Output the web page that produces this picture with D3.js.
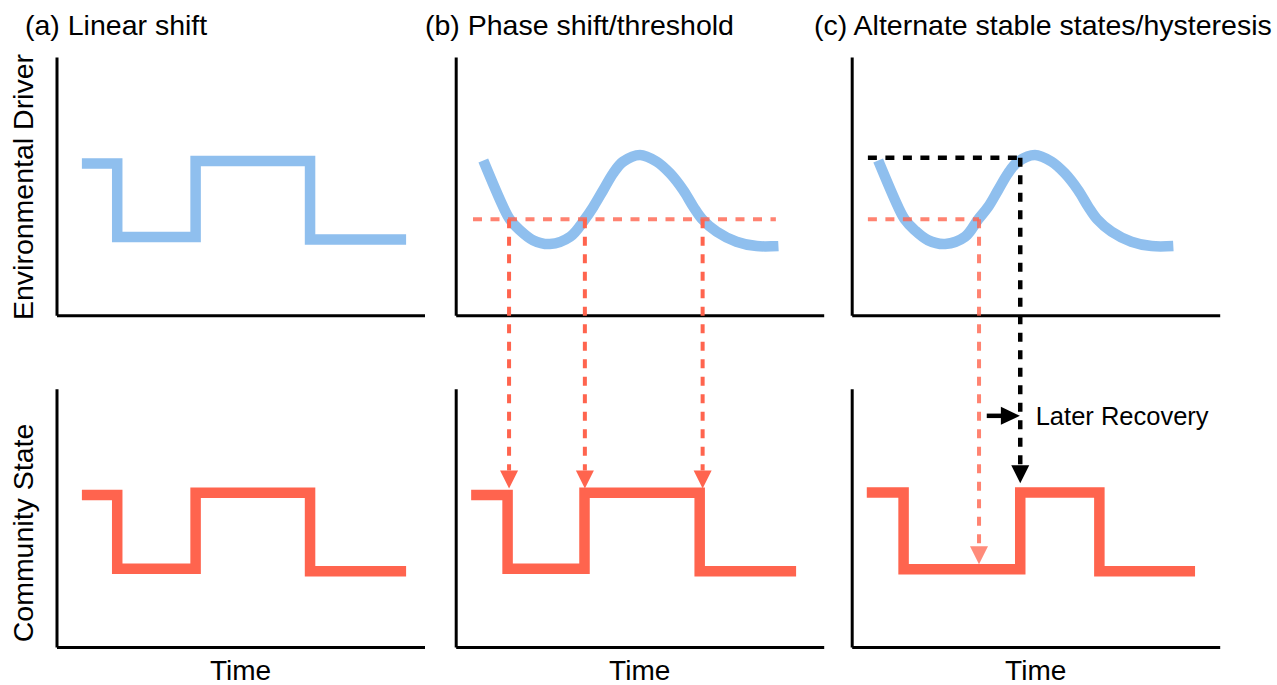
<!DOCTYPE html>
<html>
<head>
<meta charset="utf-8">
<title>Regime shifts</title>
<style>
  body { margin: 0; background: #fff; }
  text { font-family: "Liberation Sans", Arial, Helvetica, sans-serif; fill: #000; }
</style>
</head>
<body>
<svg class="figure"></svg>
<script src="https://cdn.jsdelivr.net/npm/d3@7/dist/d3.min.js"></script>
<script>
// text
const titles = ["(a) Linear shift", "(b) Phase shift/threshold", "(c) Alternate stable states/hysteresis"]
const driverLabel = "Environmental Driver"
const stateLabel = "Community State"
const timeLabel = "Time"
const recoveryLabel = "Later Recovery"

// (a) step driver + step response (time, level); levels hold until next time
const driverStepTimesA = [6.9, 16.5, 37.8, 68.9, 95.0]
const driverStepLevelsA = [58.8, 30.3, 59.7, 29.3]
const stateStepTimesA = [6.9, 16.5, 37.8, 68.9, 95.0]
const stateStepLevelsA = [58.8, 30.3, 59.7, 29.3]

// (b) smooth driver, threshold, response
const driverTimesB = [7.5, 12.9, 14.7, 17.4, 21.0, 25.6, 31.1, 35.1, 37.4, 40.1, 42.8, 45.5, 50.1, 54.6, 58.2, 61.8, 64.6, 67.0, 70.9, 76.3, 81.8, 87.7]
const driverValuesB = [59.9, 42.0, 37.2, 33.0, 29.1, 27.6, 30.4, 37.2, 42.0, 48.5, 55.0, 59.5, 62.1, 59.5, 55.0, 48.5, 42.0, 37.2, 32.4, 28.5, 26.8, 26.8]
const thresholdB = 37.2
const thresholdSpanB = [4.7, 87.0]
const crossingsB = [14.5, 35.1, 67.1]
const arrowTipB = 61.4
const stateStepTimesB = [4.2, 14.1, 35.0, 66.3, 92.5]
const stateStepLevelsB = [58.8, 30.3, 59.7, 29.3]

// (c) smooth driver, two thresholds, response
const driverTimesC = [7.2, 12.6, 14.4, 17.1, 20.7, 25.4, 30.8, 34.4, 37.1, 39.8, 42.5, 45.2, 49.8, 54.3, 57.9, 61.5, 64.3, 66.7, 70.6, 76.0, 81.5, 87.4]
const driverValuesC = [59.9, 42.0, 37.2, 33.0, 29.1, 27.6, 30.4, 37.2, 42.0, 48.5, 55.0, 59.5, 62.1, 59.5, 55.0, 48.5, 42.0, 37.2, 32.4, 28.5, 26.8, 26.8]
const collapseLevelC = 37.2
const collapseSpanC = [4.4, 34.6]
const collapseTipC = 32.0
const recoveryLevelC = 61.0
const recoverySpanC = [4.4, 45.8]
const recoveryTipC = 63.4
const laterArrowC = { from: 36.7, to: 45.7, level: 89.5 }
const laterTextC = { t: 50.0, v: 85.9 }
const stateStepTimesC = [4.1, 14.1, 45.8, 67.3, 93.3]
const stateStepLevelsC = [59.8, 30.1, 59.8, 29.3]

const blue = "#8fbfee", red = "#ff644e"
const width = 1277, height = 685
const colLeft = [56.5, 455.7, 851.7]
const rowTop = [57, 388.7]
const plotW = 368, plotH = 258.3
const dash = "9,8.5"

const svg = d3.select(".figure")
    .attr("width", width)
    .attr("height", height)

function scales(col, row) {
    return {
        x: d3.scaleLinear().domain([0, 100]).range([colLeft[col], colLeft[col] + plotW]),
        y: d3.scaleLinear().domain([0, 100]).range([rowTop[row] + plotH, rowTop[row]])
    }
}

function steps(times, levels) {
    return times.map((t, i) => [t, levels[Math.min(i, levels.length - 1)]])
}

function zipped(ts, vs) {
    return ts.map((t, i) => [t, vs[i]])
}

function arrowHead(g, x, y, color, opacity) {
    // downward triangle, tip at (x, y)
    g.append("path")
        .attr("d", `M${x - 9},${y - 18}L${x + 9},${y - 18}L${x},${y}Z`)
        .attr("fill", color)
        .attr("opacity", opacity)
}

const panels = []
for (let c = 0; c < 3; c++) {
    for (let r = 0; r < 2; r++) {
        const s = scales(c, r)
        const g = svg.append("g")
        g.append("g")
            .attr("transform", `translate(${s.x(0)},0)`)
            .call(d3.axisLeft(s.y).tickValues([]).tickSizeOuter(0))
        g.append("g")
            .attr("transform", `translate(0,${s.y(0)})`)
            .call(d3.axisBottom(s.x).tickValues([]).tickSizeOuter(0))
        g.selectAll(".domain").attr("stroke", "#000").attr("stroke-width", 3)
        panels.push(s)
    }
}
const P = (c, r) => panels[c * 2 + r]

// titles and labels
svg.selectAll("text.title")
    .data(titles)
    .enter()
    .append("text")
    .attr("class", "title")
    .attr("x", (d, i) => [25, 425, 814][i])
    .attr("y", 35)
    .attr("font-size", 28.5)
    .text(d => d)

svg.append("text")
    .attr("transform", "translate(33,187) rotate(-90)")
    .attr("text-anchor", "middle")
    .attr("font-size", 28.5)
    .text(driverLabel)
svg.append("text")
    .attr("transform", "translate(33,533) rotate(-90)")
    .attr("text-anchor", "middle")
    .attr("font-size", 28.5)
    .text(stateLabel)

for (let c = 0; c < 3; c++) {
    svg.append("text")
        .attr("x", P(c, 1).x(50))
        .attr("y", 680)
        .attr("text-anchor", "middle")
        .attr("font-size", 28)
        .text(timeLabel)
}

function stepLine(s) {
    return d3.line().x(d => s.x(d[0])).y(d => s.y(d[1])).curve(d3.curveStepAfter)
}
function smoothLine(s) {
    return d3.line().x(d => s.x(d[0])).y(d => s.y(d[1])).curve(d3.curveCatmullRom.alpha(0.5))
}

function drawStep(s, data, color) {
    svg.append("path")
        .attr("d", stepLine(s)(data))
        .attr("fill", "none")
        .attr("stroke", color)
        .attr("stroke-width", 10.5)
        .attr("stroke-linejoin", "miter")
}
function drawWave(s, data) {
    svg.append("path")
        .attr("d", smoothLine(s)(data))
        .attr("fill", "none")
        .attr("stroke", blue)
        .attr("stroke-width", 10.5)
}

// (a)
drawStep(P(0, 0), steps(driverStepTimesA, driverStepLevelsA), blue)
drawStep(P(0, 1), steps(stateStepTimesA, stateStepLevelsA), red)

// (b)
drawWave(P(1, 0), zipped(driverTimesB, driverValuesB))
drawStep(P(1, 1), steps(stateStepTimesB, stateStepLevelsB), red)
{
    const top = P(1, 0), bot = P(1, 1)
    const g = svg.append("g")
    g.append("line")
        .attr("x1", top.x(thresholdSpanB[0])).attr("x2", top.x(thresholdSpanB[1]))
        .attr("y1", top.y(thresholdB)).attr("y2", top.y(thresholdB))
        .attr("stroke", red).attr("stroke-width", 4)
        .attr("stroke-dasharray", dash).attr("opacity", 0.8)
    g.selectAll("line.drop")
        .data(crossingsB)
        .enter()
        .append("line")
        .attr("x1", d => top.x(d)).attr("x2", d => top.x(d))
        .attr("y1", top.y(thresholdB)).attr("y2", bot.y(arrowTipB) - 18)
        .attr("stroke", red).attr("stroke-width", 4)
        .attr("stroke-dasharray", dash)
    crossingsB.forEach(t => arrowHead(g, top.x(t), bot.y(arrowTipB), red, 1))
}

// (c)
drawWave(P(2, 0), zipped(driverTimesC, driverValuesC))
drawStep(P(2, 1), steps(stateStepTimesC, stateStepLevelsC), red)
{
    const top = P(2, 0), bot = P(2, 1)
    const g = svg.append("g")
    // collapse threshold
    g.append("path")
        .attr("d", `M${top.x(collapseSpanC[0])},${top.y(collapseLevelC)}H${top.x(collapseSpanC[1])}`)
        .attr("stroke", red).attr("stroke-width", 4).attr("fill", "none")
        .attr("stroke-dasharray", dash).attr("opacity", 0.8)
    g.append("path")
        .attr("d", `M${top.x(collapseSpanC[1])},${top.y(collapseLevelC)}V${bot.y(collapseTipC) - 18}`)
        .attr("stroke", red).attr("stroke-width", 4).attr("fill", "none")
        .attr("stroke-dasharray", dash).attr("opacity", 0.8)
    arrowHead(g, top.x(collapseSpanC[1]), bot.y(collapseTipC), red, 0.75)
    // recovery threshold
    g.append("path")
        .attr("d", `M${top.x(recoverySpanC[0])},${top.y(recoveryLevelC)}H${top.x(recoverySpanC[1])}`)
        .attr("stroke", "#000").attr("stroke-width", 4.5).attr("fill", "none")
        .attr("stroke-dasharray", dash)
    g.append("path")
        .attr("d", `M${top.x(recoverySpanC[1])},${top.y(recoveryLevelC)}V${bot.y(recoveryTipC) - 18}`)
        .attr("stroke", "#000").attr("stroke-width", 4.5).attr("fill", "none")
        .attr("stroke-dasharray", dash)
    arrowHead(g, top.x(recoverySpanC[1]), bot.y(recoveryTipC), "#000", 1)
    // later recovery arrow
    const ax1 = bot.x(laterArrowC.from), ax2 = bot.x(laterArrowC.to), ay = bot.y(laterArrowC.level)
    g.append("line")
        .attr("x1", ax1).attr("x2", ax2 - 17)
        .attr("y1", ay).attr("y2", ay)
        .attr("stroke", "#000").attr("stroke-width", 4.5)
    g.append("path")
        .attr("d", `M${ax2 - 19},${ay - 9}L${ax2 - 19},${ay + 9}L${ax2},${ay}Z`)
        .attr("fill", "#000")
    g.append("text")
        .attr("x", bot.x(laterTextC.t))
        .attr("y", bot.y(laterTextC.v))
        .attr("font-size", 25.5)
        .text(recoveryLabel)
}
</script>
</body>
</html>
